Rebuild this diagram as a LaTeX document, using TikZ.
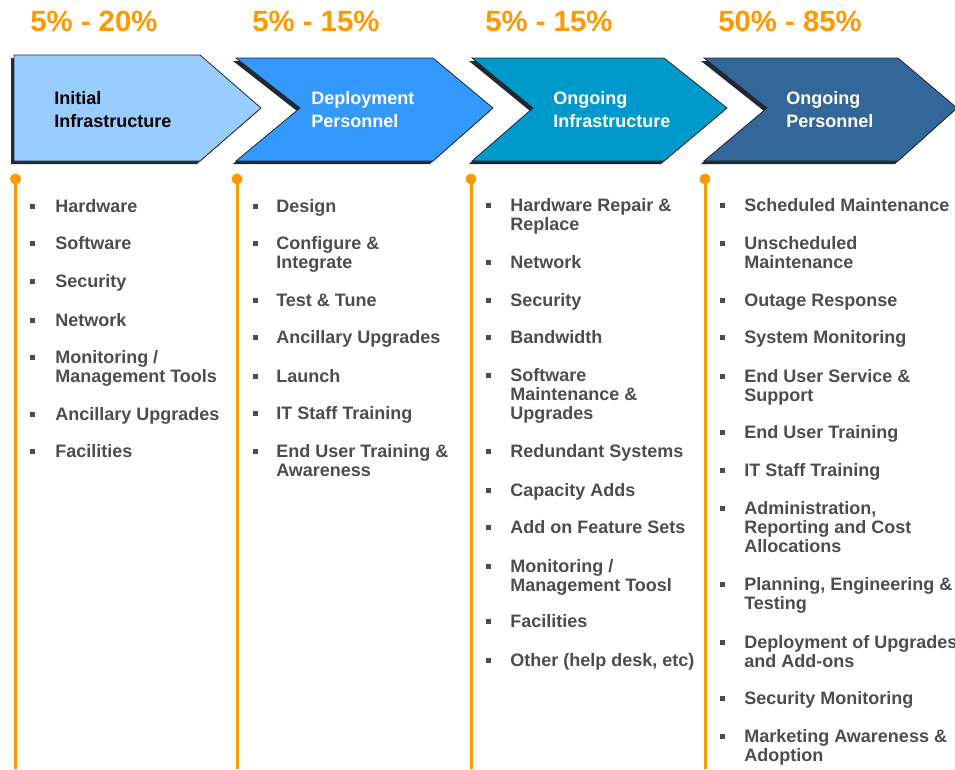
\documentclass[tikz,border=0pt]{standalone}
\usepackage{fontspec}
\setmainfont{Liberation Sans}
\usepackage{tikz}

\definecolor{pctorange}{RGB}{255,153,0}
\definecolor{itemgray}{RGB}{77,77,77}
\definecolor{chevA}{RGB}{153,204,255}
\definecolor{chevB}{RGB}{51,153,255}
\definecolor{chevC}{RGB}{0,153,204}
\definecolor{chevD}{RGB}{51,102,153}
\definecolor{chevshadow}{RGB}{34,40,48}

\tikzset{
  pct/.style={anchor=base west, inner sep=0pt, text=pctorange, font=\fontsize{22}{26}\selectfont\bfseries},
  chevlabel/.style={anchor=base west, inner sep=0pt, align=left, font=\fontsize{13.5}{17.25}\selectfont\bfseries},
  item/.style={anchor=base west, inner sep=0pt, align=left, text=itemgray, font=\fontsize{13.5}{14.25}\selectfont\bfseries},
  orangeline/.style={draw=pctorange, line width=2.25pt},
}

\begin{document}
\begin{tikzpicture}[x=0.75pt,y=0.75pt,yscale=-1,xscale=1]
\useasboundingbox (0,0) rectangle (955,769);

%Shapes: chevrons with drop shadow
\foreach \xl/\xn/\xr/\xt/\yt/\col in {14/14/200/261/55/chevA, 236/300/433/493/58/chevB, 472/533/664/727/58/chevC, 704/767/898/957/58/chevD} {
  \begin{scope}[shift={(-3,3)}]
    \fill[chevshadow] (\xl,\yt) -- (\xr,\yt) -- (\xt,108) -- (\xr,161) -- (\xl,161) -- (\xn,108) -- cycle;
  \end{scope}
  \filldraw[fill=\col, draw=chevshadow, line width=0.6pt] (\xl,\yt) -- (\xr,\yt) -- (\xt,108) -- (\xr,161) -- (\xl,161) -- (\xn,108) -- cycle;
}

% Text Node (base = last line)
\node[chevlabel, text=black] (lblinit) at (54,127) {Initial\\Infrastructure};
\node[chevlabel, text=white] (lbldeploy) at (311,127) {Deployment\\Personnel};
\node[chevlabel, text=white] (lblinfra) at (553,127) {Ongoing\\Infrastructure};
\node[chevlabel, text=white] (lblpers) at (786,127) {Ongoing\\Personnel};

% Text Node
\node[pct] (pctinit) at (30,31) {5\% - 20\%};
\node[pct] (pctdeploy) at (252,31) {5\% - 15\%};
\node[pct] (pctinfra) at (485,31) {5\% - 15\%};
\node[pct] (pctpers) at (718,31) {50\% - 85\%};

%Straight Lines: orange time lines
\foreach \x in {15.5,237,471,705} {
  \draw[orangeline] (\x,180) -- (\x,769);
  \fill[pctorange] (\x,179) circle (5.5);
}

%Bullet lists: first-line baseline / number of lines / text
\foreach \yy/\nl/\txt [count=\i] in {212.5/1/Hardware, 249.5/1/Software, 287.5/1/Security, 326.5/1/Network,
    363.5/2/{Monitoring /\\Management Tools}, 420.5/1/Ancillary Upgrades, 457.5/1/Facilities} {
  \node[item] (initem\i) at (55,{\yy+(\nl-1)*19}) {\txt};
  \fill[itemgray] ([shift={(-25.5,{-9-(\nl-1)*19})}]initem\i.base west) rectangle ++(5,5);
}

\foreach \yy/\nl/\txt [count=\i] in {212.5/1/Design, 249.5/2/{Configure \&\\Integrate}, 306.5/1/Test \& Tune,
    343.5/1/Ancillary Upgrades, 382.5/1/Launch, 419.5/1/IT Staff Training, 457.5/2/{End User Training \&\\Awareness}} {
  \node[item] (depitem\i) at (276,{\yy+(\nl-1)*19}) {\txt};
  \fill[itemgray] ([shift={(-23.5,{-9-(\nl-1)*19})}]depitem\i.base west) rectangle ++(5,5);
}

\foreach \yy/\nl/\txt [count=\i] in {211.5/2/{Hardware Repair \&\\Replace}, 268.5/1/Network, 306.5/1/Security,
    343.5/1/Bandwidth, 381.5/3/{Software\\Maintenance \&\\Upgrades}, 457.5/1/Redundant Systems,
    496.5/1/Capacity Adds, 533.5/1/Add on Feature Sets, 572.5/2/{Monitoring /\\Management Toosl},
    627.5/1/Facilities, 666.5/1/{Other (help desk, etc)}} {
  \node[item] (infitem\i) at (510,{\yy+(\nl-1)*19}) {\txt};
  \fill[itemgray] ([shift={(-24.5,{-9-(\nl-1)*19})}]infitem\i.base west) rectangle ++(5,5);
}

\foreach \yy/\nl/\txt [count=\i] in {211.5/1/Scheduled Maintenance, 249.5/2/{Unscheduled\\Maintenance},
    306.5/1/Outage Response, 343.5/1/System Monitoring, 382.5/2/{End User Service \&\\Support},
    438.5/1/End User Training, 476.5/1/IT Staff Training,
    514.5/3/{Administration,\\Reporting and Cost\\Allocations},
    590.5/2/{Planning, Engineering \&\\Testing}, 648.5/2/{Deployment of Upgrades\\and Add-ons},
    704.5/1/Security Monitoring, 742.5/2/{Marketing Awareness \&\\Adoption}} {
  \node[item] (peritem\i) at (744,{\yy+(\nl-1)*19}) {\txt};
  \fill[itemgray] ([shift={(-24.5,{-9-(\nl-1)*19})}]peritem\i.base west) rectangle ++(5,5);
}

\end{tikzpicture}
\end{document}
